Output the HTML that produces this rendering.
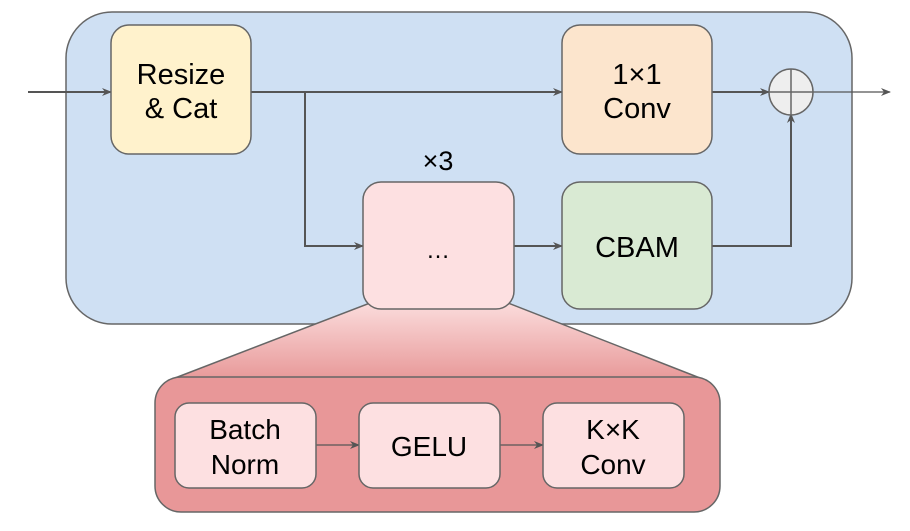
<!DOCTYPE html>
<html><head><style>body{margin:0;background:#fff}</style></head><body>
<svg width="910" height="526" viewBox="0 0 910 526" xmlns="http://www.w3.org/2000/svg" font-family="Liberation Sans, sans-serif">
<defs>
<linearGradient id="g" x1="0" y1="0" x2="0" y2="1"><stop offset="0" stop-color="#fbdcdc"/><stop offset="1" stop-color="#e89a9a"/></linearGradient>
<marker id="a" markerWidth="10" markerHeight="10" refX="9" refY="5" orient="auto" markerUnits="userSpaceOnUse"><path d="M0,1 L10,5 L0,9 L3,5 z" fill="#555"/></marker>
</defs>
<rect x="66" y="12" width="786" height="312" rx="46" fill="#cfe0f3" stroke="#666" stroke-width="1.5"/>
<polygon points="370,303 508,303 700,378 175,378" fill="url(#g)" stroke="#666" stroke-width="1.5"/>
<rect x="155" y="377" width="565" height="135" rx="26" fill="#e89798" stroke="#666" stroke-width="1.5"/>
<g stroke="#555" stroke-width="2" fill="none">
<line x1="28" y1="92" x2="111" y2="92" marker-end="url(#a)"/>
<line x1="251" y1="92" x2="562" y2="92" marker-end="url(#a)"/>
<polyline points="305,92 305,246 363,246" marker-end="url(#a)"/>
<line x1="514" y1="246" x2="562" y2="246" marker-end="url(#a)"/>
<line x1="712" y1="92" x2="769" y2="92" marker-end="url(#a)"/>
<polyline points="712,246 791,246 791,114" marker-end="url(#a)"/>
<line x1="813" y1="92" x2="890" y2="92" stroke-width="1.3" marker-end="url(#a)"/>
<line x1="316" y1="445" x2="359" y2="445" stroke-width="1.3" marker-end="url(#a)"/>
<line x1="500" y1="445" x2="543" y2="445" stroke-width="1.3" marker-end="url(#a)"/>
</g>
<g stroke="#666" stroke-width="1.5">
<rect x="111" y="25" width="140" height="129" rx="18" fill="#fff2cc"/>
<rect x="562" y="25" width="150" height="129" rx="18" fill="#fce5cd"/>
<rect x="363" y="182" width="151" height="127" rx="18" fill="#fde0e1"/>
<rect x="562" y="182" width="150" height="127" rx="18" fill="#d9ead3"/>
<ellipse cx="791" cy="92" rx="22" ry="23" fill="#eee"/>
<line x1="769" y1="92" x2="813" y2="92"/><line x1="791" y1="69" x2="791" y2="115"/>
<rect x="175" y="403" width="141" height="85" rx="14" fill="#fde0e1"/>
<rect x="359" y="403" width="141" height="85" rx="14" fill="#fde0e1"/>
<rect x="543" y="403" width="141" height="85" rx="14" fill="#fde0e1"/>
</g>
<g font-size="29" text-anchor="middle" fill="#000">
<text x="181" y="84">Resize</text><text x="181" y="118">&amp; Cat</text>
<text x="637" y="84">1×1</text><text x="637" y="118">Conv</text>
<text x="438" y="170" font-size="27">×3</text>
<text x="438" y="258" font-size="24">…</text>
<text x="637" y="257">CBAM</text>
<g font-size="28">
<text x="245" y="439">Batch</text><text x="245" y="474">Norm</text>
<text x="429" y="456">GELU</text>
<text x="613" y="439">K×K</text><text x="613" y="474">Conv</text>
</g>
</g>
</svg>
</body></html>
